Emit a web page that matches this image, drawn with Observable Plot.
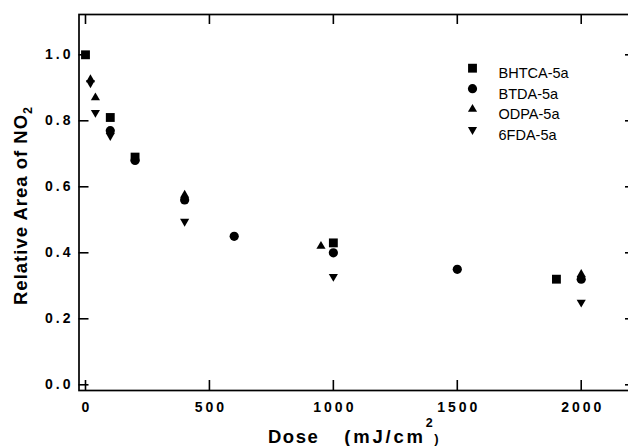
<!DOCTYPE html>
<html>
<head>
<meta charset="utf-8">
<script src="https://cdn.jsdelivr.net/npm/d3@7"></script>
<script src="https://cdn.jsdelivr.net/npm/@observablehq/plot@0.6"></script>
<style>
  html, body { margin: 0; padding: 0; background: #fff; }
  #chart { width: 628px; height: 446px; overflow: hidden; }
</style>
</head>
<body>
<div id="chart"></div>
<script>
// ---- data ----
const seriesNames = ["BHTCA-5a", "BTDA-5a", "ODPA-5a", "6FDA-5a"];

const bhtcaDose = [0, 100, 200, 1000, 1900];
const bhtcaArea = [1.0, 0.81, 0.69, 0.43, 0.32];

const btdaDose = [100, 200, 400, 600, 1000, 1500, 2000];
const btdaArea = [0.77, 0.68, 0.56, 0.45, 0.40, 0.35, 0.32];

const odpaDose = [20, 40, 400, 950, 2000];
const odpaArea = [0.925, 0.87, 0.575, 0.42, 0.335];

const fdaDose = [20, 40, 100, 400, 1000, 2000];
const fdaArea = [0.915, 0.825, 0.755, 0.495, 0.328, 0.25];

const xTicks = [0, 500, 1000, 1500, 2000];
const yTicks = [0.0, 0.2, 0.4, 0.6, 0.8, 1.0];

// ---- build tables ----
const toRows = (xs, ys) => xs.map((x, i) => ({x, y: ys[i]}));
const rows = [
  toRows(bhtcaDose, bhtcaArea),
  toRows(btdaDose, btdaArea),
  toRows(odpaDose, odpaArea),
  toRows(fdaDose, fdaArea)
];

const triangleDown = {
  draw(context, size) {
    const y = -Math.sqrt(size / (Math.sqrt(3) * 3));
    context.moveTo(0, -y * 2);
    context.lineTo(-Math.sqrt(3) * y, y);
    context.lineTo(Math.sqrt(3) * y, y);
    context.closePath();
  }
};
const symbols = ["square", "circle", "triangle", triangleDown];
const radii = [5, 4.6, 3.4, 3.4];

const W = 628, H = 446;
const mL = 78.5, mT = 14, mB = 56, mR = -7;
const innerW = W - mL - mR, innerH = H - mT - mB;
const tickLen = 10;

const marks = [];
// frame
marks.push(Plot.frame({stroke: "black", strokeWidth: 1.7}));
// inward ticks
marks.push(Plot.tickX(xTicks, {x: d => d, insetTop: innerH - tickLen, stroke: "black", strokeWidth: 1.6}));
marks.push(Plot.tickX(xTicks, {x: d => d, insetBottom: innerH - tickLen, stroke: "black", strokeWidth: 1.6}));
marks.push(Plot.tickY(yTicks, {y: d => d, insetRight: innerW - tickLen, stroke: "black", strokeWidth: 1.6}));
marks.push(Plot.tickY(yTicks, {y: d => d, insetLeft: innerW - tickLen, stroke: "black", strokeWidth: 1.6}));
// tick labels
marks.push(Plot.axisX({ticks: xTicks, tickSize: 0, tickPadding: 12, tickFormat: d3.format("d"),
  fontSize: 14, fontWeight: "bold", label: null, dx: 1.5}));
marks.push(Plot.axisY({ticks: yTicks, tickSize: 0, tickPadding: 5.5, tickFormat: d3.format(".1f"),
  fontSize: 14, fontWeight: "bold", label: null}));
// data
rows.forEach((data, i) => {
  marks.push(Plot.dot(data, {x: "x", y: "y", symbol: symbols[i], r: radii[i], fill: "black", stroke: "none"}));
});
// legend
const legX = 393.5, legY = 53.7, legStep = 20.5;
seriesNames.forEach((name, i) => {
  marks.push(Plot.dot([name], {frameAnchor: "top-left", dx: legX, dy: legY + i * legStep,
    symbol: symbols[i], r: radii[i], fill: "black", stroke: "none"}));
  marks.push(Plot.text([name], {frameAnchor: "top-left", dx: legX + 26, dy: legY + i * legStep,
    text: d => d, textAnchor: "start", fontSize: 14.5, fill: "black", ariaLabel: "legend-label"}));
});

const chart = Plot.plot({
  width: W, height: H,
  marginLeft: mL, marginTop: mT, marginBottom: mB, marginRight: mR,
  style: {fontFamily: "'Liberation Sans', Arial, sans-serif", background: "white", overflow: "hidden"},
  x: {domain: [-26.2, 2219], axis: null},
  y: {domain: [-0.0173, 1.1221], axis: null},
  marks
});

document.getElementById("chart").appendChild(chart);

const svg = d3.select(chart);
svg.selectAll('g[aria-label="x-axis tick label"] text, g[aria-label="y-axis tick label"] text')
  .attr("letter-spacing", "3px");

// legend labels: bold suffix
svg.selectAll('g[aria-label="legend-label"] text').each(function() {
  const t = this.textContent;
  const k = t.lastIndexOf("-") + 1;
  const el = d3.select(this);
  el.text(null);
  el.append("tspan").text(t.slice(0, k));
  el.append("tspan").attr("font-weight", "bold").text(t.slice(k));
});

// axis titles
const fam = "'Liberation Sans', Arial, sans-serif";
const xt = svg.append("text")
  .attr("x", 268).attr("y", 443)
  .attr("text-anchor", "start")
  .attr("font-family", fam).attr("font-size", 18.5).attr("font-weight", "bold")
  .attr("letter-spacing", "1.5px").attr("fill", "black");
xt.append("tspan").text("Dose");
xt.append("tspan").attr("dx", 25).attr("letter-spacing", "2.8px").text("(mJ/cm");
xt.append("tspan").attr("dy", -16).attr("font-size", 12.5).text("2");
xt.append("tspan").attr("dy", 16).attr("font-size", 13).text(")");

const yt = svg.append("text")
  .attr("transform", "translate(27,305) rotate(-90)")
  .attr("text-anchor", "start")
  .attr("font-family", fam).attr("font-size", 18.5).attr("font-weight", "bold")
  .attr("letter-spacing", "1px").attr("fill", "black");
yt.append("tspan").text("Relative Area of NO");
yt.append("tspan").attr("dy", 5).attr("font-size", 12.5).text("2");
</script>
</body>
</html>
